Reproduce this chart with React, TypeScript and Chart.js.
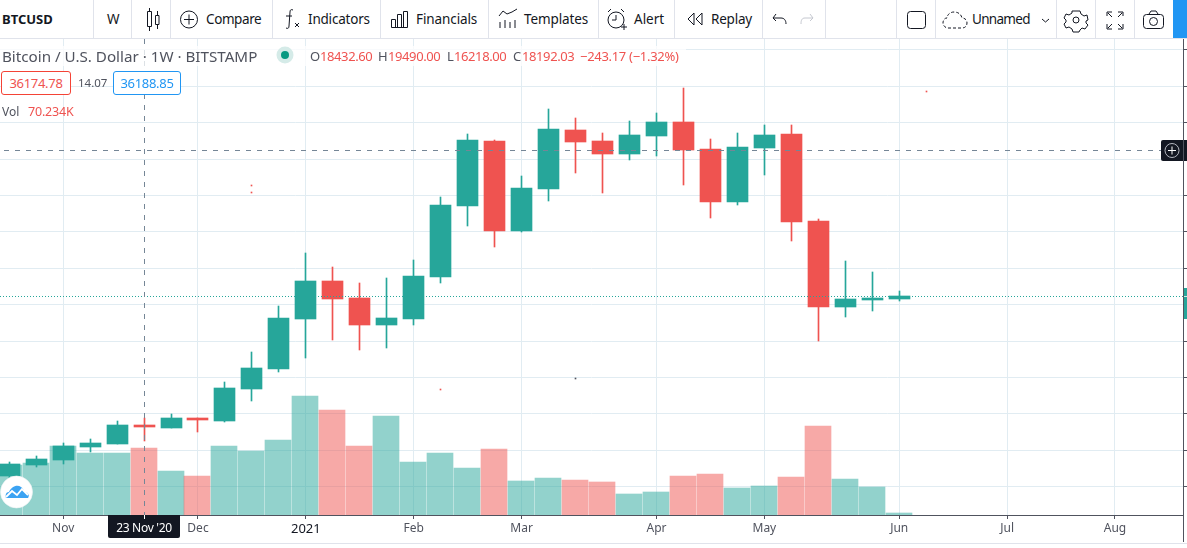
import React, { useEffect, useRef } from "react";
import { Chart, registerables } from "chart.js";

Chart.register(...registerables);

const categories = [
  "19 Oct '20", "26 Oct '20", "2 Nov '20", "9 Nov '20", "16 Nov '20", "23 Nov '20", "30 Nov '20",
  "7 Dec '20", "14 Dec '20", "21 Dec '20", "28 Dec '20", "4 Jan '21", "11 Jan '21", "18 Jan '21",
  "25 Jan '21", "1 Feb '21", "8 Feb '21", "15 Feb '21", "22 Feb '21", "1 Mar '21", "8 Mar '21",
  "15 Mar '21", "22 Mar '21", "29 Mar '21", "5 Apr '21", "12 Apr '21", "19 Apr '21", "26 Apr '21",
  "3 May '21", "10 May '21", "17 May '21", "24 May '21", "31 May '21", "7 Jun '21",
];
const opens = [
  11445, 12917, 13605, 15393, 15806, 18432.6, 18007, 19382, 18969, 23371, 26122, 33000, 38226, 35888,
  32174, 33000, 38777, 48543, 57483, 45104, 50881, 58996, 57483, 55695, 58171, 60097, 56383, 49093,
  56521, 58446, 46479, 34650, 35613, 35751,
];
const closes = [
  13055, 13743, 15531, 15943, 18419, 18192.03, 19382, 19107, 23509, 26260, 33137, 38226, 35751, 32174,
  33137, 38914, 48680, 57621, 45104, 51019, 59134, 57346, 55695, 58309, 60097, 56245, 49093, 56658,
  58309, 46342, 34650, 35751, 35888, 36188.85,
];
const highs = [
  13370, 14155, 15943, 16494, 18969, 19490, 19932, 19382, 24334, 28460, 34788, 42078, 40152, 37951,
  38639, 41115, 49781, 58446, 57621, 52669, 61885, 60647, 58584, 60234, 61335, 64800, 57759, 58584,
  59684, 59684, 46755, 40977, 39464, 36851,
];
const lows = [
  11129, 12642, 13055, 14705, 15806, 16218, 18007, 17456, 18832, 21720, 25709, 27635, 30111, 28735,
  29011, 32174, 37951, 45792, 42903, 44966, 49230, 53082, 50331, 54870, 55420, 51431, 46892, 48680,
  52807, 43728, 29973, 33275, 34100, 35475,
];
const volumes = [
  52.4, 54.5, 72.3, 65.0, 65.0, 70.234, 46.1, 40.9, 72.3, 67.1, 78.6, 124.7, 110.0, 72.3, 103.8, 55.5,
  65.0, 49.3, 69.2, 35.6, 38.8, 36.7, 34.6, 22.0, 24.1, 40.9, 43.0, 28.3, 30.4, 39.8, 93.3, 37.7, 29.3, 2.1,
];
const timeTickIndex = [2, 7, 11, 15, 19, 24, 28, 33, 37, 41];
const timeTickLabels = ["Nov", "Dec", "2021", "Feb", "Mar", "Apr", "May", "Jun", "Jul", "Aug"];
const priceTicks = [10000, 15000, 20000, 25000, 30000, 35000, 40000, 45000, 50000, 55000, 60000, 65000, 70000];
const strayIndex = [9, 9, 16, 21, 34];
const strayLow = [51250, 50280, 23330, 24850, 64170];
const strayHigh = [51450, 50480, 23470, 24980, 64310];
const strayColor = ["#ef5350", "#ef5350", "#ef5350", "#50535e", "#ef5350"];
const lastPrice = 36188.85;
const crosshairPrice = 56182;
const crosshairIndex = 5;

const UP = "#26a69a";
const DOWN = "#ef5350";
const GRID = "#e1ecf2";
const AXIS = "#50535e";
const X_MIN = -0.3411;
const X_MAX = 43.522;
const FONT = '"Noto Sans", sans-serif';

const snapPlugin = {
  id: "snap",
  beforeDatasetsDraw(chart: any) {
    chart.getSortedVisibleDatasetMetas().forEach((meta: any) => {
      const kind = meta._dataset.kind;
      meta.data.forEach((el: any) => {
        if (kind === "volume") {
          el.x = Math.floor(el.x);
          el.y = Math.round(el.y);
        } else if (kind === "bar") {
          el.x = Math.floor(el.x) + 0.5;
          el.y = Math.round(el.y);
          el.base = Math.round(el.base);
        } else if (kind === "guideV") {
          el.x = Math.floor(el.x) + 0.5;
          el.y = Math.round(el.y);
        } else if (kind === "guideH") {
          el.x = Math.round(el.x);
          el.y = Math.floor(el.y) + 0.5;
        }
      });
    });
  },
};

function T(p: { x: number; y: number; s?: number; c?: string; w?: number; ls?: number; children: any }) {
  return (
    <span
      style={{
        position: "absolute",
        left: p.x,
        top: p.y - 10,
        height: 20,
        lineHeight: "20px",
        fontSize: p.s ?? 14,
        color: p.c ?? "#131722",
        fontWeight: p.w ?? 400,
        letterSpacing: p.ls ?? 0,
        fontFamily: FONT,
        whiteSpace: "nowrap",
      }}
    >
      {p.children}
    </span>
  );
}

function Box(p: { l: number; t: number; w: number; h: number; bg: string; style?: any }) {
  return <div style={{ position: "absolute", left: p.l, top: p.t, width: p.w, height: p.h, background: p.bg, ...p.style }} />;
}

const toolbarSeparators = [93, 131, 170, 272, 380, 488, 598, 674, 762, 825, 896, 935, 1056, 1095, 1134];

function Toolbar() {
  return (
    <div style={{ position: "absolute", left: 0, top: 0, width: 1187, height: 39, background: "#fff" }}>
      <Box l={0} t={38} w={1187} h={1} bg="#e0e3eb" />
      {toolbarSeparators.map((x) => (
        <Box key={x} l={x} t={0} w={1} h={38} bg="#e0e3eb" />
      ))}
      <Box l={1173} t={0} w={14} h={38} bg="#2196f3" />
      <T x={2} y={19} s={13} w={700}>BTCUSD</T>
      <T x={107} y={19} s={13.5}>W</T>
      <T x={206} y={19} s={13.5} ls={-0.4}>Compare</T>
      <T x={308} y={19} s={13.5} ls={-0.2}>Indicators</T>
      <T x={416} y={19} s={13.5} ls={-0.1}>Financials</T>
      <T x={524} y={19} s={13.5} ls={-0.1}>Templates</T>
      <T x={634} y={19} s={13.5}>Alert</T>
      <T x={711} y={19} s={13.5} ls={-0.2}>Replay</T>
      <T x={972} y={19} s={13.5} ls={-0.7}>Unnamed</T>
      <svg width={1187} height={38} style={{ position: "absolute", left: 0, top: 0 }} fill="none" stroke="#131722" strokeWidth={1}>
        <path d="M147.5 11.5h4v15h-4zM149.5 8v3.5M149.5 26.5V31M155.5 15.5h3.5v9h-3.5zM157.5 11v4.5M157.5 24.5V29" />
        <circle cx={189} cy={19.5} r={8.5} />
        <path d="M189 14.5v10M184 19.5h10" />
        <path d="M293 10c-2-1-3 0-3 2l-1 14c0 2-1 3-3 2M286 16h6M295 23l4 4M299 23l-4 4" />
        <path d="M391.5 27.5h16M391.5 27.5v-8h4v8M397.5 27.5v-13h4v13M403.5 27.5v-16h4v16" />
        <path d="M499 16l4-5 4 3 5-2 5-3M500 28v-6M505 28v-8M510 28v-6M515 28v-8" />
        <circle cx={616} cy={20} r={8} />
        <path d="M608 12l3-3M624 12l-3-3M616 15v5h-4M621 27h6M624 24v6" />
        <path d="M694 13l-6 6 6 6zM702 13l-6 6 6 6z" />
        <path d="M776 14l-3 4 3 3M773 18h8c3 0 5 2 5 6" />
        <path d="M810 14l3 4-3 3M813 18h-8c-3 0-4 2-4 6" stroke="#c5c8d0" />
        <rect x={907.5} y={11.5} width={18} height={17} rx={3} />
        <path d="M948 28h14c3 0 5-2 5-5s-2-5-5-5c-1-4-4-6-8-6s-7 3-7 6c-3 0-4 3-4 5s2 5 5 5z" strokeDasharray="3 2" />
        <path d="M1042 19l3.5 3 3.5-3" />
        <circle cx={1076} cy={20} r={3} />
        <path d="M1072 11h8l1 3 3 2 3-1 1 5-2 1v2l2 2-3 4-3-1-2 2-1 2h-6l-1-3-3-2-3 1-2-4 2-2v-2l-2-2 2-4 3 1 3-2z" />
        <path d="M1107 16v-4h5M1123 16v-4h-5M1107 24v5h5M1123 24v5h-5M1108 13l4 4M1122 13l-4 4M1108 28l4-4M1122 28l-4-4" />
        <rect x={1143.5} y={14.5} width={20} height={14} rx={3} />
        <path d="M1149 14l2-3h5l2 3" />
        <circle cx={1153.5} cy={21.5} r={4} />
      </svg>
    </div>
  );
}

function Legend() {
  const red = DOWN;
  const gray = AXIS;
  const ls = -0.4;
  return (
    <>
      <Box l={0} t={46} w={686} h={20} bg="rgba(255,255,255,0.75)" />
      <T x={2} y={56} s={15.2} c={gray}>Bitcoin / U.S. Dollar · 1W · BITSTAMP</T>
      <svg width={20} height={20} style={{ position: "absolute", left: 275, top: 45 }}>
        <circle cx={10} cy={10} r={8.5} fill="#d5ebe8" />
        <circle cx={10} cy={10} r={4} fill="#089981" />
      </svg>
      <T x={310} y={56} s={13} c={gray}>O</T>
      <T x={320} y={56} s={13} c={red} ls={ls}>18432.60</T>
      <T x={378} y={56} s={13} c={gray}>H</T>
      <T x={388} y={56} s={13} c={red} ls={ls}>19490.00</T>
      <T x={447} y={56} s={13} c={gray}>L</T>
      <T x={454} y={56} s={13} c={red} ls={ls}>16218.00</T>
      <T x={513} y={56} s={13} c={gray}>C</T>
      <T x={522} y={56} s={13} c={red} ls={ls}>18192.03</T>
      <T x={580} y={56} s={13} c={red} ls={-0.3}>−243.17 (−1.32%)</T>
      <div style={{ position: "absolute", left: 1, top: 71, width: 68, height: 22, border: "1px solid #f44336", borderRadius: 3, background: "#fff", color: DOWN, font: `13px ${FONT}`, lineHeight: "22px", textAlign: "center", letterSpacing: -0.3 }}>36174.78</div>
      <T x={78} y={83} s={11.5} c={gray}>14.07</T>
      <div style={{ position: "absolute", left: 113, top: 71, width: 66, height: 22, border: "1px solid #2196f3", borderRadius: 3, background: "#fff", color: "#2196f3", font: `13px ${FONT}`, lineHeight: "22px", textAlign: "center", letterSpacing: -0.3 }}>36188.85</div>
      <T x={2} y={112} s={12} c={gray}>Vol</T>
      <T x={28} y={112} s={12.5} c={red} ls={-0.2}>70.234K</T>
    </>
  );
}

function Overlays() {
  return (
    <>
      <Box l={1183} t={515} w={1} h={27} bg={AXIS} />
      <Box l={0} t={543} w={1187} h={1} bg="#e0e3eb" />
      <Box l={1184} t={288} w={3} h={31} bg={UP} />
      <Box l={1184} t={296} w={3} h={1} bg="#cfeae7" />
      <Box l={108} t={515} w={72} h={23} bg="#131722" style={{ borderRadius: "0 0 2px 2px" }} />
      <Box l={144} t={515} w={1} h={4} bg="#fff" />
      <span style={{ position: "absolute", left: 108, top: 518, width: 72, lineHeight: "20px", textAlign: "center", color: "#fff", fontFamily: FONT, fontSize: 12, letterSpacing: -0.3, whiteSpace: "nowrap" }}>
        {categories[crosshairIndex]}
      </span>
      <Box l={1161} t={140} w={22} h={21} bg="#131722" style={{ borderRadius: "2px 0 0 2px" }} />
      <Box l={1184} t={140} w={3} h={21} bg="#131722" />
      <svg width={22} height={21} style={{ position: "absolute", left: 1161, top: 140 }} fill="none">
        <circle cx={11} cy={10.5} r={7} stroke="#b2b5be" strokeWidth={1} />
        <path d="M11 6.5v8M7 10.5h8" stroke="#fff" strokeWidth={1} />
      </svg>
      <svg width={34} height={34} style={{ position: "absolute", left: 0, top: 475 }}>
        <circle cx={16.5} cy={17} r={16} fill="#fff" stroke="#eef1f4" strokeWidth={0.6} />
        <path d="M6 23c-1-3 0-6 3-6 2-5 8-8 12-5 2 1 3 3 3 5 4 0 6 3 4 6z" fill="#3ba3f3" />
        <path d="M6 22l6-6 5 4 5-6 6 6" fill="none" stroke="#fff" strokeWidth={1.8} />
      </svg>
    </>
  );
}

export default function App() {
  const ref = useRef<HTMLCanvasElement>(null);

  useEffect(() => {
    const idx = categories.map((_, i) => i);
    const isUp = idx.map((i) => closes[i] >= opens[i]);
    const chart = new Chart(ref.current as HTMLCanvasElement, {
      type: "bar",
      data: {
        datasets: [
          {
            type: "line",
            kind: "guideV",
            order: 0,
            xAxisID: "x",
            yAxisID: "y",
            data: [{ x: crosshairIndex, y: 71497 }, { x: crosshairIndex, y: 6114 }],
            borderColor: "#758696",
            borderWidth: 1,
            borderDash: [5, 6],
            pointRadius: 0,
          },
          {
            type: "line",
            kind: "guideH",
            order: 0,
            xAxisID: "x",
            yAxisID: "y",
            data: [{ x: X_MIN, y: crosshairPrice }, { x: X_MAX, y: crosshairPrice }],
            borderColor: "#758696",
            borderWidth: 1,
            borderDash: [5, 6],
            borderDashOffset: 7,
            pointRadius: 0,
          },
          {
            type: "line",
            kind: "guideH",
            order: 0,
            xAxisID: "x",
            yAxisID: "y",
            data: [{ x: X_MIN, y: lastPrice }, { x: X_MAX, y: lastPrice }],
            borderColor: UP,
            borderWidth: 1,
            borderDash: [1, 2],
            pointRadius: 0,
          },
          {
            kind: "bar",
            order: 1,
            xAxisID: "x",
            yAxisID: "y",
            grouped: false,
            barThickness: 21,
            data: idx.map((i) => ({ x: i, y: [opens[i], closes[i]] })),
            backgroundColor: idx.map((i) => (isUp[i] ? UP : DOWN)),
          },
          {
            kind: "bar",
            order: 2,
            xAxisID: "x",
            yAxisID: "y",
            grouped: false,
            barThickness: 1,
            data: idx.map((i) => ({ x: i, y: [lows[i], highs[i]] })),
            backgroundColor: idx.map((i) => (isUp[i] ? UP : DOWN)),
          },
          {
            kind: "bar",
            order: 2,
            xAxisID: "x",
            yAxisID: "y",
            grouped: false,
            barThickness: 1,
            data: strayIndex.map((x, k) => ({ x, y: [strayLow[k], strayHigh[k]] })),
            backgroundColor: strayColor,
          },
          {
            kind: "volume",
            order: 4,
            xAxisID: "x",
            yAxisID: "yv",
            grouped: false,
            barThickness: 26,
            data: idx.map((i) => ({ x: i, y: volumes[i] })),
            backgroundColor: idx.map((i) => (isUp[i] ? "rgba(38,166,154,0.5)" : "rgba(239,83,80,0.5)")),
          },
        ],
      } as any,
      plugins: [snapPlugin],
      options: {
        animation: false,
        responsive: false,
        devicePixelRatio: 1,
        layout: { padding: { top: 39, left: 0, right: 0, bottom: 0 } },
        plugins: { legend: { display: false }, tooltip: { enabled: false }, title: { display: false } },
        scales: {
          x: {
            type: "linear",
            offset: false,
            min: X_MIN,
            max: X_MAX,
            position: "bottom",
            grid: { offset: false, color: GRID, tickColor: AXIS, tickLength: 4, lineWidth: 1 },
            border: { color: AXIS, width: 1 },
            afterBuildTicks: (s: any) => {
              s.ticks = timeTickIndex.map((value) => ({ value }));
            },
            afterFit: (s: any) => {
              s.height = 33;
            },
            ticks: {
              autoSkip: false,
              maxRotation: 0,
              padding: 2,
              callback: (v: any) => timeTickLabels[timeTickIndex.indexOf(Number(v))],
              color: (c: any) => (c.index === 2 ? "#131722" : AXIS),
              font: (c: any) => ({ family: FONT, size: c.index === 2 ? 13 : 12 }),
            },
          },
          y: {
            type: "linear",
            position: "right",
            min: 6114,
            max: 71497,
            grid: { color: GRID, tickColor: AXIS, tickLength: 4, lineWidth: 1 },
            border: { color: AXIS, width: 1 },
            afterBuildTicks: (s: any) => {
              s.ticks = priceTicks.map((value) => ({ value }));
            },
            afterFit: (s: any) => {
              s.width = 4;
            },
            ticks: { callback: () => "", padding: 0 },
          },
          yv: {
            type: "linear",
            display: false,
            min: 0,
            max: 498.8,
            grid: { display: false },
          },
        },
      } as any,
    });
    return () => chart.destroy();
  }, []);

  return (
    <div style={{ position: "absolute", left: 0, top: 0, width: 1187, height: 548, overflow: "hidden", background: "#fff" }}>
      <canvas ref={ref} width={1187} height={548} style={{ position: "absolute", left: 0, top: 0, width: 1187, height: 548 }} />
      <Overlays />
      <Legend />
      <Toolbar />
    </div>
  );
}
